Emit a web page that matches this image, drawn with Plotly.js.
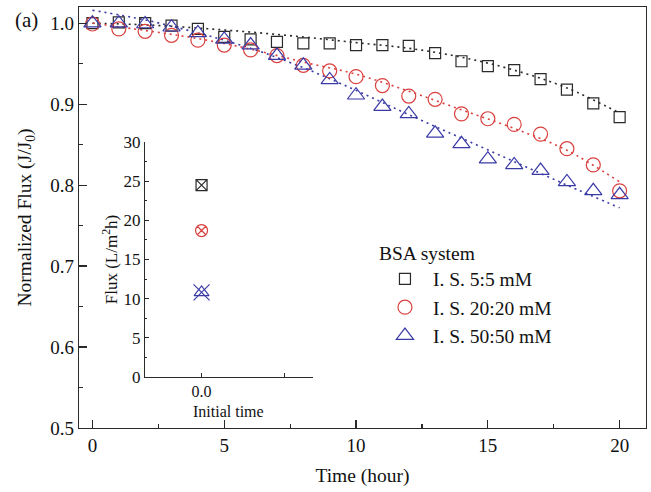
<!DOCTYPE html>
<html>
<head>
<meta charset="utf-8">
<script src="https://cdn.plot.ly/plotly-3.0.1.min.js"></script>
<style>html,body{margin:0;padding:0;background:#fff;}#chart{width:651px;height:492px;}</style>
</head>
<body>
<div id="chart"></div>
<script>
// ---- data ----
const time = [0,1,2,3,4,5,6,7,8,9,10,11,12,13,14,15,16,17,18,19,20];
const flux5 = [1.000,1.001,1.000,0.997,0.993,0.983,0.980,0.977,0.975,0.975,0.973,0.973,0.972,0.963,0.953,0.947,0.942,0.931,0.918,0.901,0.884];
const flux20 = [0.999,0.993,0.990,0.985,0.979,0.973,0.967,0.960,0.948,0.941,0.934,0.923,0.910,0.906,0.888,0.882,0.875,0.863,0.845,0.825,0.793];
const flux50 = [1.000,1.000,0.999,0.995,0.988,0.980,0.973,0.960,0.948,0.930,0.911,0.897,0.888,0.864,0.851,0.832,0.825,0.818,0.804,0.793,0.788];

const fitTime = [0,2,4,6,8,10,12,14,16,18,20];
const fit5  = [1.000,0.998,0.994,0.989,0.983,0.976,0.969,0.958,0.942,0.920,0.889];
const fit20 = [1.000,0.991,0.981,0.968,0.952,0.937,0.916,0.893,0.870,0.843,0.804];
const fit50 = [1.016,1.004,0.988,0.969,0.945,0.917,0.887,0.858,0.829,0.800,0.772];

const seriesNames = ['I. S. 5:5 mM','I. S. 20:20 mM','I. S. 50:50 mM'];
const insetX = [0];
const inset5 = [24.5];
const inset20 = [18.7];
const inset50 = [10.8];

const xTicks = [0,5,10,15,20];
const yTicks = [0.5,0.6,0.7,0.8,0.9,1.0];
const insetYTicks = [0,5,10,15,20,25,30];

// ---- styling ----
const cBlack = '#2a2a2a', cRed = '#d9413f', cBlue = '#3b3ba6';
const serif = 'Liberation Serif, Times New Roman, serif';
const dotDash = '2px,4px';

const traces = [
  {x: fitTime, y: fit5, mode:'lines', line:{color:cBlack, width:1.6, dash:dotDash, shape:'spline'}, showlegend:false, hoverinfo:'skip'},
  {x: fitTime, y: fit20, mode:'lines', line:{color:cRed, width:1.6, dash:dotDash, shape:'spline'}, showlegend:false, hoverinfo:'skip'},
  {x: fitTime, y: fit50, mode:'lines', line:{color:cBlue, width:1.6, dash:dotDash, shape:'spline'}, showlegend:false, hoverinfo:'skip'},
  {x: time, y: flux5, name: seriesNames[0], mode:'markers', marker:{symbol:'square-open', size:11, color:cBlack, line:{width:1.2}}},
  {x: time, y: flux20, name: seriesNames[1], mode:'markers', marker:{symbol:'circle-open', size:14, color:cRed, line:{width:1.2}}},
  {x: time, y: flux50, name: seriesNames[2], mode:'markers', marker:{symbol:'triangle-up-open', size:15, color:cBlue, line:{width:1.2}}},
  // inset
  {x: insetX, y: inset5, xaxis:'x2', yaxis:'y2', mode:'markers', marker:{symbol:'square-x-open', size:11, color:cBlack, line:{width:1.2}}, showlegend:false},
  {x: insetX, y: inset20, xaxis:'x2', yaxis:'y2', mode:'markers', marker:{symbol:'circle-x-open', size:12, color:cRed, line:{width:1.2}}, showlegend:false},
  {x: insetX, y: inset50, xaxis:'x2', yaxis:'y2', mode:'markers', marker:{symbol:'triangle-up-open', size:13, color:cBlue, line:{width:1.2}}, showlegend:false},
  {x: insetX, y: inset50, xaxis:'x2', yaxis:'y2', mode:'markers', marker:{symbol:'x-thin-open', size:16, color:cBlue, line:{width:1.2, color:cBlue}}, showlegend:false}
];

const axisFont = {family: serif, size: 19, color: '#111'};
const titleFont = {family: serif, size: 19.5, color: '#111'};
const layout = {
  width: 651, height: 492,
  margin: {l:79, r:5, t:7, b:64},
  paper_bgcolor:'#fff', plot_bgcolor:'rgba(0,0,0,0)',
  font: {family: serif, size: 19, color:'#111'},
  showlegend: true,
  legend: {
    x: 0.5255, y: 0.46, xanchor:'left', yanchor:'top',
    bgcolor:'rgba(0,0,0,0)', font:{family: serif, size:19.5, color:'#111'},
    title:{text:'BSA system', font:{family: serif, size:19.5, color:'#111'}},
    tracegroupgap: 0, itemwidth: 46
  },
  xaxis: {
    range:[-0.51, 21.0], tickvals: xTicks, ticks:'inside', ticklen:8, tickwidth:1.2, tickcolor:cBlack,
    minor:{dtick:2.5, ticks:'inside', ticklen:4, tickcolor:cBlack},
    showline:true, linecolor:cBlack, linewidth:1.2, mirror:true, showgrid:false, zeroline:false,
    tickfont: axisFont, title:{text:'Time (hour)', font: titleFont, standoff: 13}
  },
  yaxis: {
    range:[0.5, 1.02], tickvals: yTicks, tickformat:'.1f', ticks:'inside', ticklen:8, tickwidth:1.2, tickcolor:cBlack,
    minor:{dtick:0.05, ticks:'inside', ticklen:4, tickcolor:cBlack},
    showline:true, linecolor:cBlack, linewidth:1.2, mirror:true, showgrid:false, zeroline:false,
    tickfont: axisFont, title:{text:'Normalized Flux (J/J<sub>0</sub>)', font: titleFont, standoff: 13}
  },
  xaxis2: {
    domain:[0.1164, 0.4127], anchor:'y2', range:[-0.68, 1.34], tickvals:[0,1], ticktext:['0.0',''],
    ticks:'inside', ticklen:4, tickcolor:cBlack, showline:true, linecolor:cBlack, linewidth:1, mirror:false,
    showgrid:false, zeroline:false, tickfont:{family: serif, size:16, color:'#111'}
  },
  yaxis2: {
    domain:[0.1211, 0.6793], anchor:'x2', range:[0, 30], tickvals: insetYTicks,
    ticks:'inside', ticklen:4, tickcolor:cBlack, minor:{dtick:2.5, ticks:'inside', ticklen:2, tickcolor:cBlack},
    showline:true, linecolor:cBlack, linewidth:1, mirror:false, showgrid:false, zeroline:false,
    tickfont:{family: serif, size:17, color:'#111'},
    title:{text:'Flux (L/m<sup>2</sup>h)', font:{family: serif, size:17, color:'#111'}, standoff: 1}
  },
  annotations: [
    {text:'(a)', xref:'paper', yref:'paper', x:-0.1164, y:0.97, xanchor:'left', yanchor:'middle', showarrow:false,
     font:{family: serif, size:21, color:'#111'}},
    {text:'Initial time', xref:'x2 domain', yref:'y2 domain', x:0.5, y:-0.145, xanchor:'center', yanchor:'middle', showarrow:false,
     font:{family: serif, size:16, color:'#111'}}
  ]
};

Plotly.newPlot('chart', traces, layout, {staticPlot:true, displayModeBar:false});
</script>
</body>
</html>
